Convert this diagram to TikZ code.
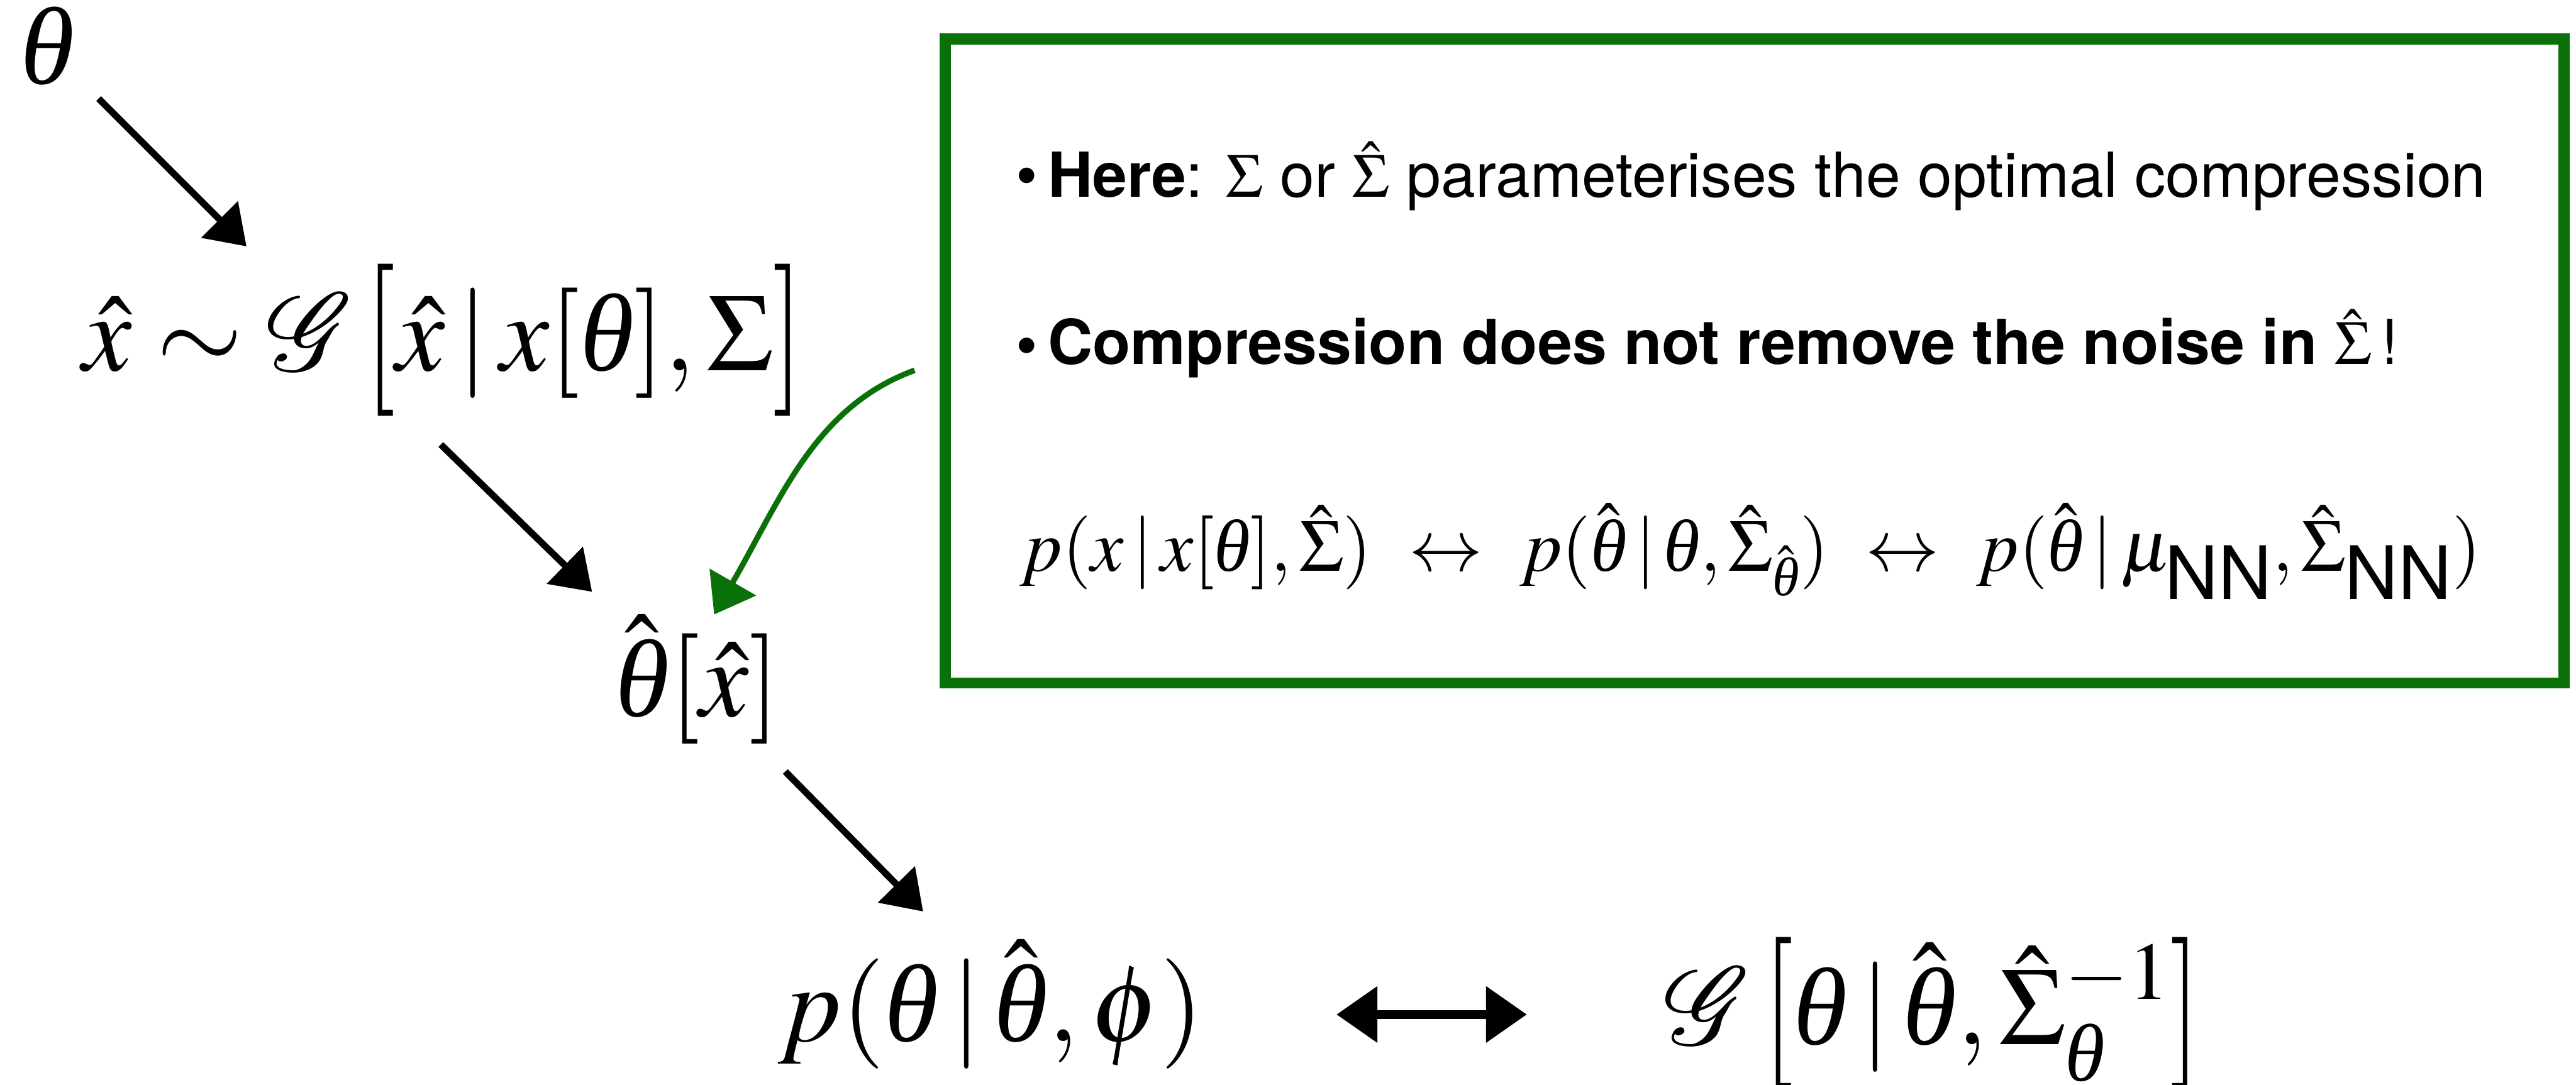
\documentclass[tikz,border=0pt]{standalone}
\usepackage[no-math]{fontspec}
\usepackage{amsmath}
\usepackage{graphicx}
\usepackage{mathptmx}
\usepackage{mathrsfs}
\DeclareFontFamily{U}{rsfs}{\skewchar\font127 }
\DeclareFontShape{U}{rsfs}{m}{n}{<-> rsfs10}{}
\newfontfamily\helv{TeX Gyre Heros}
\newfontfamily\tms{Liberation Serif}
\newcommand{\thv}{\text{\tms\itshape θ}}
\newcommand{\lbig}{\mathopen{\raisebox{-0.13cm}{\scalebox{1}[1.38]{$[$}}}}
\newcommand{\rbig}{\mathclose{\raisebox{-0.13cm}{\scalebox{1}[1.38]{$]$}}}}
\usetikzlibrary{positioning,arrows.meta}
\definecolor{boxgreen}{RGB}{10,112,8}

\begin{document}
\begin{tikzpicture}[
big/.style={font=\fontsize{56}{67}\selectfont, inner sep=0pt, anchor=base},
note/.style={font=\helv\fontsize{31.5}{38}\selectfont, inner sep=0pt, anchor=base west},
frame/.style={draw=boxgreen, line width=0.2cm, minimum width=28.9cm, minimum height=11.5cm},
flow/.style={-{Triangle[length=0.68cm, width=0.9cm]}, line width=0.12cm},
pair/.style={{Triangle[length=0.73cm, width=0.97cm]}-{Triangle[length=0.73cm, width=0.97cm]}, line width=0.16cm},
hint/.style={-{Triangle[length=0.67cm, width=0.94cm]}, line width=0.1cm, boxgreen}
]
\useasboundingbox (0,0) rectangle (45.99,-19.37);

% chain of estimates
\node[big] (theta) at (0.85,-1.5) {$\thv$};
\node[big] (xhat) at (7.91,-6.62) {$\hat x\sim\mathscr{G}\,\lbig\hat x\,|\,x[\thv],\Sigma\rbig$};
\node[big] (thetahat) at (12.45,-12.79) {$\hat{\thv}[\hat x]$};
\node[big] (post) at (17.69,-18.6) {$p(\thv\,|\,\hat{\thv},\phi)$};
\node[big] (gauss) at (34.5,-18.65) {$\mathscr{G}\,\lbig\thv\,|\,\hat{\thv},\hat\Sigma_{\thv}^{-1}\rbig$};

\coordinate (a1) at (1.76,-1.76);
\coordinate (b1) at (4.40,-4.40);
\coordinate (a2) at (7.87,-7.94);
\coordinate (b2) at (10.57,-10.57);
\coordinate (a3) at (14.02,-13.78);
\coordinate (b3) at (16.48,-16.28);
\coordinate (l) at (23.86,-18.12);
\coordinate (r) at (27.26,-18.12);

\draw[flow] (a1) -- (b1);
\draw[flow] (a2) -- (b2);
\draw[flow] (a3) -- (b3);
\draw[pair] (l) -- (r);

% remarks
\node[frame] (box) at (31.33,-6.45) {};
\node[note] (here) at (18.13,-3.52) {•\,\textbf{Here}: $\Sigma$ or $\hat\Sigma$ parameterises the optimal compression};
\node[note] (noise) at (18.13,-6.51) {\textbf{•\,Compression does not remove the noise in} $\hat\Sigma$\,!};
\node[note, font=\helv\fontsize{37.5}{45}\selectfont] (rel) at (18.2,-10.2)
  {$p(x\,|\,x[\thv],\hat\Sigma)\ \leftrightarrow\ p(\hat{\thv}\,|\,\thv,\hat\Sigma_{\hat{\thv}})\ \leftrightarrow\ p(\hat{\thv}\,|\,\mu_{\mbox{\helv NN}},\hat\Sigma_{\mbox{\helv NN}})$};

\draw[hint, shorten <=0.48cm] (box.west) to[out=200, in=60] ([xshift=0.3cm]thetahat.north);
\end{tikzpicture}
\end{document}
